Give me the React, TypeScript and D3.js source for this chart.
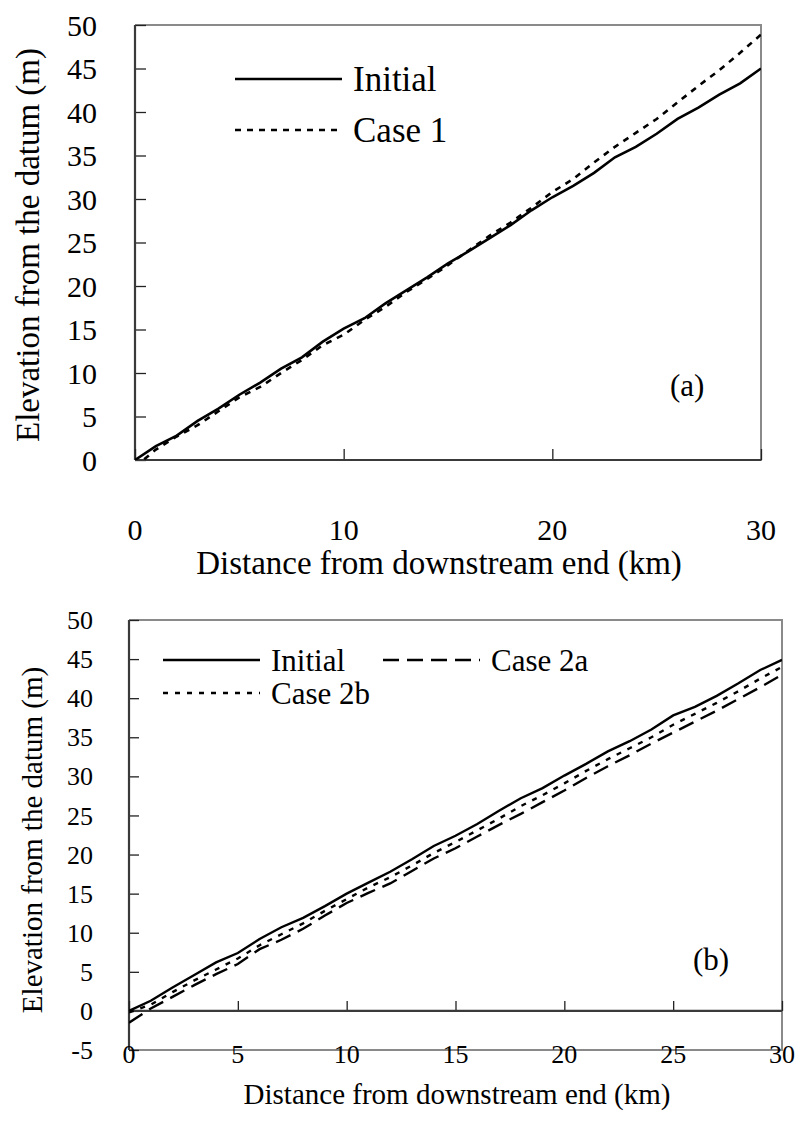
import React, {Component} from 'react';
import * as d3 from "d3"

// distance from the downstream end (km)
const distance = [0,1,2,3,4,5,6,7,8,9,10,11,12,13,14,15,16,17,18,19,20,21,22,23,24,25,26,27,28,29,30]

// panel (a)
const initialA = [0,1.6,2.8,4.5,5.9,7.5,8.9,10.5,11.8,13.6,15.1,16.3,18,19.5,21,22.6,24,25.5,27,28.7,30.2,31.5,33,34.8,36,37.5,39.2,40.5,42,43.3,45]
const case1A = [-0.8,1.2,2.7,4,5.6,7.2,8.4,10,11.5,13.2,14.4,16.1,17.6,19.3,20.8,22.4,24.1,25.8,27.3,29,30.8,32.3,34.2,36,37.6,39.2,41.1,43,44.8,46.8,48.9]
const xTicksA = [0,10,20,30]
const yTicksA = [0,5,10,15,20,25,30,35,40,45,50]

// panel (b)
const initialB = [0,1.3,3,4.6,6.2,7.4,9.2,10.7,11.9,13.4,15,16.4,17.8,19.4,21.1,22.4,23.9,25.6,27.2,28.5,30.1,31.6,33.2,34.5,36,37.8,38.9,40.3,41.9,43.6,44.9]
const case2aB = [-1.5,0.3,1.8,3.3,4.7,6,7.9,9.1,10.5,12.2,13.8,15.1,16.3,17.9,19.5,20.8,22.3,23.8,25.2,26.7,28.2,29.8,31.3,32.7,34.2,35.6,37,38.4,39.9,41.4,43]
const case2bB = [-0.2,0.8,2.4,3.9,5.3,6.7,8.4,9.8,11.2,12.8,14.3,15.8,17.1,18.6,20.2,21.6,23.1,24.6,26.2,27.6,29.1,30.7,32.2,33.6,35,36.6,38,39.4,40.9,42.5,44]
const xTicksB = [0,5,10,15,20,25,30]
const yTicksB = [-5,0,5,10,15,20,25,30,35,40,45,50]

const FONT = "Liberation Serif, Times New Roman, serif"

interface SeriesDef {
  name: string
  values: number[]
  dash: string | null
  width: number
  legend: [number, number, number] // x1, x2, y
}

interface PanelDef {
  id: string
  left: number
  right: number
  top: number
  bottom: number
  yDomain: [number, number]
  xTicks: number[]
  yTicks: number[]
  tickFont: number
  titleFont: number
  legendFont: number
  yLabelRight: number
  xLabelBase: number
  xTitle: [number, number]
  yTitle: [number, number]
  tag: string
  tagPos: [number, number]
  tickLen: number
  series: SeriesDef[]
}

class App extends Component {

  drawPanel(svg: any, p: PanelDef) {
    const x = d3.scaleLinear().domain([0, 30]).range([p.left, p.right])
    const y = d3.scaleLinear().domain(p.yDomain).range([p.bottom, p.top])
    const g = svg.append("g").attr("font-family", FONT).attr("fill", "#000")

    // gray frame (top, right, bottom)
    g.append("path")
      .attr("d", `M${p.left},${p.top}H${p.right}V${p.bottom}H${p.left}`)
      .attr("fill", "none").attr("stroke", "#8a8a8a").attr("stroke-width", 2)

    // y axis, ticks pointing inward
    const yAxis = g.append("g")
      .attr("transform", `translate(${p.left},0)`)
      .call(d3.axisLeft(y).tickValues(p.yTicks).tickSize(-p.tickLen).tickFormat(() => ""))
    yAxis.select(".domain").remove()
    yAxis.selectAll(".tick text").remove()
    yAxis.selectAll(".tick line").attr("stroke", "#222").attr("stroke-width", 1.3)
    yAxis.append("line")
      .attr("x1", 0).attr("x2", 0).attr("y1", p.top).attr("y2", p.bottom)
      .attr("stroke", "#3a3a3a").attr("stroke-width", 2.2)

    g.append("g").selectAll("text")
      .data(p.yTicks)
      .join("text")
      .attr("x", p.yLabelRight)
      .attr("y", (d: number) => y(d))
      .attr("dy", "0.35em")
      .attr("text-anchor", "end")
      .attr("font-family", FONT)
      .attr("font-size", p.tickFont)
      .text((d: number) => String(d))

    // x axis at y = 0, ticks pointing up, labels at the bottom
    const y0 = y(0)
    const xAxis = g.append("g")
      .attr("transform", `translate(0,${y0})`)
      .call(d3.axisBottom(x).tickValues(p.xTicks).tickSize(-p.tickLen).tickFormat(() => ""))
    xAxis.select(".domain").remove()
    xAxis.selectAll(".tick text").remove()
    xAxis.selectAll(".tick line").attr("stroke", "#222").attr("stroke-width", 1.3)
    xAxis.append("line")
      .attr("x1", p.left).attr("x2", p.right).attr("y1", 0).attr("y2", 0)
      .attr("stroke", "#3a3a3a").attr("stroke-width", 2.2)

    g.append("g").selectAll("text")
      .data(p.xTicks)
      .join("text")
      .attr("x", (d: number) => x(d))
      .attr("y", p.xLabelBase)
      .attr("text-anchor", "middle")
      .attr("font-family", FONT)
      .attr("font-size", p.tickFont)
      .text((d: number) => String(d))

    // clip lines to plot area
    g.append("clipPath").attr("id", "clip-" + p.id)
      .append("rect").attr("x", p.left).attr("y", p.top)
      .attr("width", p.right - p.left).attr("height", p.bottom - p.top)

    const line = d3.line<number>()
      .x((d, i) => x(distance[i]))
      .y(d => y(d))

    p.series.forEach(s => {
      g.append("path")
        .attr("clip-path", `url(#clip-${p.id})`)
        .attr("d", line(s.values))
        .attr("fill", "none")
        .attr("stroke", "#000")
        .attr("stroke-width", s.width)
        .attr("stroke-dasharray", s.dash)

      const [lx1, lx2, ly] = s.legend
      g.append("line")
        .attr("x1", lx1).attr("x2", lx2).attr("y1", ly).attr("y2", ly)
        .attr("stroke", "#000").attr("stroke-width", s.width)
        .attr("stroke-dasharray", s.dash)
      g.append("text")
        .attr("x", lx2 + 11).attr("y", ly).attr("dy", "0.35em")
        .attr("font-size", p.legendFont)
        .text(s.name)
    })

    // axis titles
    g.append("text")
      .attr("x", p.xTitle[0]).attr("y", p.xTitle[1])
      .attr("text-anchor", "middle").attr("font-size", p.titleFont)
      .text("Distance from downstream end (km)")
    g.append("text")
      .attr("transform", `translate(${p.yTitle[0]},${p.yTitle[1]}) rotate(-90)`)
      .attr("text-anchor", "middle").attr("font-size", p.titleFont)
      .text("Elevation from the datum (m)")

    g.append("text")
      .attr("x", p.tagPos[0]).attr("y", p.tagPos[1])
      .attr("font-size", 31)
      .text(p.tag)
  }

  renderChart() {
    const svg = d3.select("#ProfileChart").select("svg")
    svg.selectAll("*").remove()

    this.drawPanel(svg, {
      id: "a", left: 135, right: 761, top: 25, bottom: 460,
      yDomain: [0, 50], xTicks: xTicksA, yTicks: yTicksA,
      tickFont: 30, titleFont: 33, legendFont: 35,
      yLabelRight: 97, xLabelBase: 540,
      xTitle: [439, 574], yTitle: [39, 245],
      tag: "(a)", tagPos: [670, 396], tickLen: 11,
      series: [
        {name: "Initial", values: initialA, dash: null, width: 2.6, legend: [235, 342, 79]},
        {name: "Case 1", values: case1A, dash: "6,6", width: 2.6, legend: [235, 342, 130]},
      ]
    })

    this.drawPanel(svg, {
      id: "b", left: 129, right: 782, top: 620, bottom: 1050,
      yDomain: [-5, 50], xTicks: xTicksB, yTicks: yTicksB,
      tickFont: 26, titleFont: 29, legendFont: 31,
      yLabelRight: 93, xLabelBase: 1063,
      xTitle: [457, 1104], yTitle: [42, 840],
      tag: "(b)", tagPos: [693, 970], tickLen: 10,
      series: [
        {name: "Initial", values: initialB, dash: null, width: 2.4, legend: [163, 260, 660]},
        {name: "Case 2a", values: case2aB, dash: "16,8", width: 2.4, legend: [383, 480, 660]},
        {name: "Case 2b", values: case2bB, dash: "5,7", width: 2.4, legend: [163, 260, 693]},
      ]
    })
  }

  componentDidMount() {
    this.renderChart()
  }

  public render(): JSX.Element {
    return (
      <div id='ProfileChart' style={{position: "absolute", left: 0, top: 0}}>
        <svg width={799} height={1122} style={{display: "block", background: "#fff"}} />
      </div>
    )
  }
}
export default App;
